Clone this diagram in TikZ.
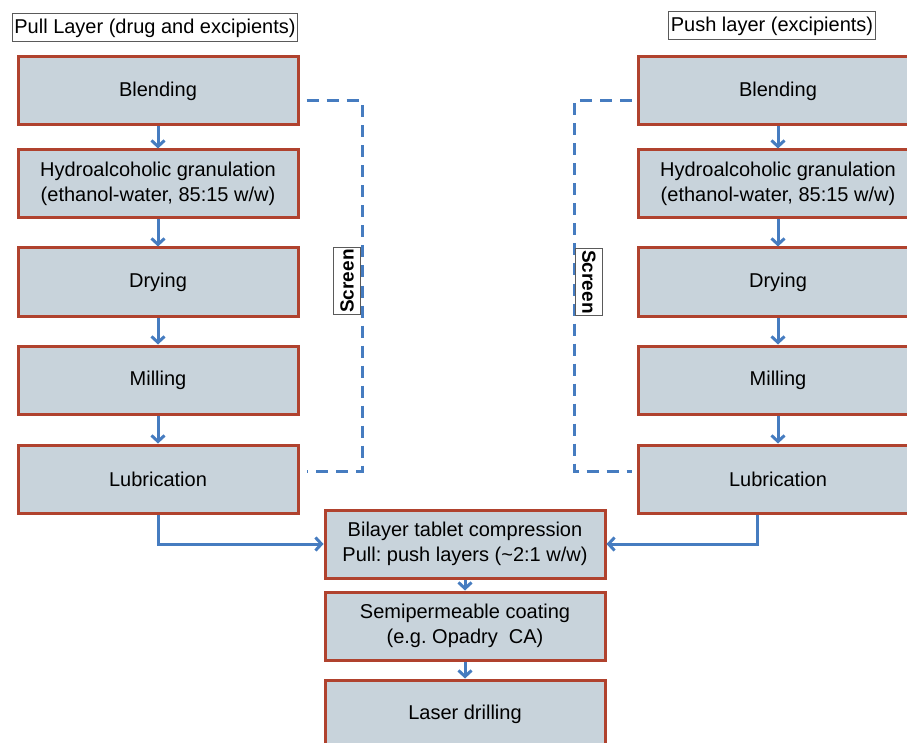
\documentclass[tikz,border=0pt]{standalone}
\usepackage{fontspec}
\setmainfont{Liberation Sans}
\usepackage{tikz}
\usetikzlibrary{arrows.meta,calc,positioning}
\frenchspacing
\definecolor{procfill}{RGB}{200,211,219}
\definecolor{procedge}{RGB}{176,66,46}
\definecolor{flowblue}{RGB}{70,124,192}
\definecolor{tagedge}{RGB}{90,90,90}
\tikzset{
  proc/.style={draw=procedge,fill=procfill,line width=3pt,minimum width=280pt,
    minimum height=68pt,align=center,inner sep=0pt},
  tag/.style={draw=tagedge,line width=1pt,inner sep=2pt,minimum height=28pt},
  screentag/.style={draw=tagedge,line width=1pt,inner sep=2pt,minimum height=27pt,
    font=\fontsize{19}{22}\selectfont\bfseries},
  flow/.style={draw=flowblue,line width=3pt,-{Straight Barb[length=6pt,width=13pt]}},
  screenline/.style={draw=flowblue,line width=3pt,dash pattern=on 12pt off 8pt}
}
\newcommand{\procnode}[4]{%
  \node[proc] (#1) at (#2,#3) {#4};
}
\begin{document}
\begin{tikzpicture}[x=1pt,y=-1pt,font=\fontsize{20}{25}\selectfont]
  \useasboundingbox (0,0) rectangle (907,743);
  \node[tag] (pulltag) at (155,28) {Pull Layer (drug and excipients)};
  \node[tag] (pushtag) at (772,26) {Push layer (excipients)};
  % pull layer
  \procnode{lblend}{158}{91}{Blending}
  \procnode{lgran}{158}{184}{Hydroalcoholic granulation\\(ethanol-water, 85:15 w/w)}
  \procnode{ldry}{158}{282}{Drying}
  \procnode{lmill}{158}{380}{Milling}
  \procnode{llub}{158}{479}{Lubrication}
  % push layer
  \procnode{rblend}{778}{91}{Blending}
  \procnode{rgran}{778}{184}{Hydroalcoholic granulation\\(ethanol-water, 85:15 w/w)}
  \procnode{rdry}{778}{282}{Drying}
  \procnode{rmill}{778}{380}{Milling}
  \procnode{rlub}{778}{479}{Lubrication}
  % common steps
  \procnode{bilayer}{465}{544}{Bilayer tablet compression\\Pull: push layers (\textasciitilde2:1 w/w)}
  \procnode{coat}{465}{626}{Semipermeable coating\\(e.g. Opadry\ \ CA)}
  \procnode{laser}{465}{714}{Laser drilling}
  \foreach \a/\b in {lblend/lgran,lgran/ldry,ldry/lmill,lmill/llub,
    rblend/rgran,rgran/rdry,rdry/rmill,rmill/rlub,bilayer/coat,coat/laser}
    \draw[flow] (\a) -- (\b);
  \draw[flow] (llub.south) |- (bilayer.west);
  \draw[flow] ([xshift=-21pt]rlub.south) |- (bilayer.east);
  % screens
  \coordinate (lscr) at (362,101);
  \coordinate (rscr) at (574,101);
  \draw[screenline] ([shift={(7,10)}]lblend.east) -- (lscr) |- ([shift={(7,-8)}]llub.east);
  \draw[screenline] ([shift={(-5,10)}]rblend.west) -- (rscr) |- ([shift={(-5,-8)}]rlub.west);
  \node[screentag,rotate=90,fill=white] (lscreen) at (347,281) {Screen};
  \node[screentag,rotate=-90,fill=white] (rscreen) at (589,282) {Screen};
\end{tikzpicture}
\end{document}
